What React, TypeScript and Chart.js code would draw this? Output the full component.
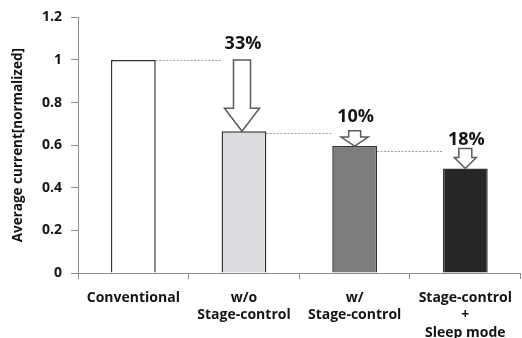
import React, { useEffect, useRef } from "react";
import { Chart, registerables } from "chart.js";

Chart.register(...registerables);

// ---- data ----
const categories: string[][] = [
  ["Conventional"],
  ["w/o", "Stage-control"],
  ["w/", "Stage-control"],
  ["Stage-control", "+", "Sleep mode"],
];
const values: number[] = [1.0, 0.666, 0.596, 0.491];
const barColors: string[] = ["#ffffff", "#dcdbe0", "#7d7d7d", "#262626"];
const yTickValues: number[] = [0, 0.2, 0.4, 0.6, 0.8, 1, 1.2];
const yTitle = "Average current[normalized]";
// reduction annotations (for bars 1..3)
const reductionLabels: string[] = ["33%", "10%", "18%"];
const referenceLevels: number[] = [1.0, 0.655, 0.574];
const arrowFrom: number[] = [1.0, 0.668, 0.585];

// ---- styles ----
const FONT = '"Open Sans", "Noto Sans", sans-serif';
const AXIS_COLOR = "#8c8c8c";
const TEXT_COLOR = "#141414";
const arrowStyle = [
  { shaftW: 17, headW: 35, headLen: 23, labelDy: -16 },
  { shaftW: 12, headW: 27, headLen: 9, labelDy: -14 },
  { shaftW: 13, headW: 22, headLen: 11, labelDy: -9 },
];

const annotationPlugin = {
  id: "reductionArrows",
  afterDatasetsDraw(chart: any) {
    const ctx = chart.ctx as CanvasRenderingContext2D;
    const meta = chart.getDatasetMeta(0);
    const ys = chart.scales.y;
    ctx.save();
    for (let i = 0; i < reductionLabels.length; i++) {
      const prev = meta.data[i].getProps(["x", "width"], true);
      const cur = meta.data[i + 1].getProps(["x", "width", "y"], true);
      // dotted reference line
      const ly = Math.round(ys.getPixelForValue(referenceLevels[i])) + 0.5;
      ctx.setLineDash([2, 1.5]);
      ctx.strokeStyle = "#a0a0a0";
      ctx.lineWidth = 1;
      ctx.beginPath();
      ctx.moveTo(prev.x + prev.width / 2, ly);
      ctx.lineTo(cur.x - cur.width / 2, ly);
      ctx.stroke();
      // arrow
      const s = arrowStyle[i];
      const top = ys.getPixelForValue(arrowFrom[i]);
      const tip = cur.y;
      const hx = cur.x - (i === 0 ? 2 : 0);
      ctx.setLineDash([]);
      ctx.beginPath();
      ctx.moveTo(hx - s.shaftW / 2, top);
      ctx.lineTo(hx + s.shaftW / 2, top);
      ctx.lineTo(hx + s.shaftW / 2, tip - s.headLen);
      ctx.lineTo(hx + s.headW / 2, tip - s.headLen);
      ctx.lineTo(hx, tip);
      ctx.lineTo(hx - s.headW / 2, tip - s.headLen);
      ctx.lineTo(hx - s.shaftW / 2, tip - s.headLen);
      ctx.closePath();
      ctx.fillStyle = "#ffffff";
      ctx.fill();
      ctx.strokeStyle = "#5a5a5a";
      ctx.lineWidth = 1.5;
      ctx.stroke();
      // label
      ctx.font = `bold 18px ${FONT}`;
      ctx.fillStyle = TEXT_COLOR;
      ctx.textAlign = "center";
      ctx.textBaseline = "middle";
      ctx.fillText(reductionLabels[i], hx + 1, top + s.labelDy);
    }
    ctx.restore();
  },
};

export default function App() {
  const canvasRef = useRef<HTMLCanvasElement | null>(null);

  useEffect(() => {
    if (!canvasRef.current) return;
    const chart = new Chart(canvasRef.current, {
      type: "bar",
      data: {
        labels: categories as any,
        datasets: [
          {
            data: values,
            backgroundColor: barColors,
            borderColor: "#333333",
            borderWidth: 1.5,
            barPercentage: 0.405,
            categoryPercentage: 1,
          },
        ],
      },
      options: {
        animation: false,
        responsive: false,
        maintainAspectRatio: false,
        devicePixelRatio: 1,
        layout: { padding: { top: 17, left: 0, right: 0, bottom: 0 } },
        plugins: { legend: { display: false }, tooltip: { enabled: false } },
        scales: {
          x: {
            grid: {
              display: true,
              drawOnChartArea: false,
              offset: true,
              color: AXIS_COLOR,
              tickLength: 6,
            },
            border: { color: AXIS_COLOR, width: 1 },
            ticks: {
              color: TEXT_COLOR,
              font: { family: FONT, size: 14, weight: "bold", lineHeight: "17.5px" as any },
              padding: 10,
              maxRotation: 0,
              autoSkip: false,
            },
            afterFit: (s: any) => {
              s.height = 65;
            },
          },
          y: {
            min: 0,
            max: 1.2,
            afterBuildTicks: (s: any) => {
              s.ticks = yTickValues.map((v) => ({ value: v }));
            },
            grid: {
              drawOnChartArea: false,
              color: AXIS_COLOR,
              tickLength: 7,
            },
            border: { color: AXIS_COLOR, width: 1 },
            ticks: {
              color: TEXT_COLOR,
              padding: 9,
              font: { family: FONT, size: 14, weight: "bold" },
              callback: (v: any) => String(Number(Number(v).toFixed(1))),
            },
            title: {
              display: true,
              text: yTitle,
              color: TEXT_COLOR,
              font: { family: FONT, size: 13.5, weight: "bold" },
              padding: { top: 10, bottom: 0 },
            },
            afterFit: (s: any) => {
              s.width = 78;
            },
          },
        },
      },
      plugins: [annotationPlugin],
    });
    return () => chart.destroy();
  }, []);

  return (
    <div style={{ position: "fixed", left: 0, top: 0, width: 522, height: 338, background: "#fff" }}>
      <canvas ref={canvasRef} width={522} height={338} style={{ display: "block", width: 522, height: 338 }} />
    </div>
  );
}
